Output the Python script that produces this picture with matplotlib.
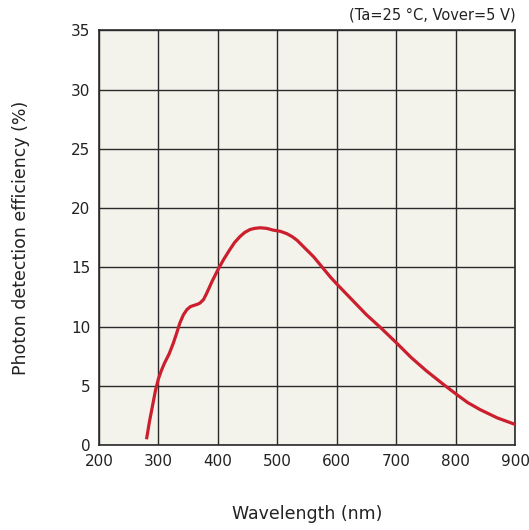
import matplotlib
matplotlib.use("Agg")
import matplotlib.pyplot as plt

wavelength = [280, 285, 290, 295, 300, 305, 310, 318, 325, 331, 336, 342, 348, 354, 360, 366, 370, 376, 381,
              390, 401, 410, 420, 428, 437, 445, 454, 462, 471, 482, 493, 505, 516, 525, 533, 547, 561,
              575, 589, 600, 625, 650, 673, 701, 725, 750, 780, 801, 820, 841, 870, 900]
pde = [0.5, 2.0, 3.3, 4.6, 5.6, 6.3, 6.9, 7.7, 8.6, 9.5, 10.3, 11.0, 11.45, 11.7, 11.8, 11.9, 12.0, 12.3, 12.8,
       13.8, 14.9, 15.7, 16.5, 17.1, 17.6, 17.95, 18.2, 18.3, 18.35, 18.3, 18.15, 18.05, 17.85, 17.6, 17.3, 16.6, 15.9,
       15.05, 14.2, 13.6, 12.3, 11.0, 9.95, 8.6, 7.4, 6.3, 5.1, 4.3, 3.6, 3.0, 2.3, 1.75]

xticks = [200, 300, 400, 500, 600, 700, 800, 900]
yticks = [0, 5, 10, 15, 20, 25, 30, 35]

fig = plt.figure(figsize=(5.29, 5.30), dpi=100)
ax = fig.add_axes([0.187, 0.160, 0.787, 0.7825])
ax.set_facecolor("#f3f2eb")
ax.plot(wavelength, pde, color="#cc1f2d", lw=2.3, solid_joinstyle="round", solid_capstyle="butt", zorder=3)
ax.set_xlim(200, 900)
ax.set_ylim(0, 35)
ax.set_xticks(xticks)
ax.set_yticks(yticks)
ax.grid(True, color="#2a2a2a", lw=1.0)
ax.set_axisbelow(True)
for s in ax.spines.values():
    s.set_color("#2a2a2a")
    s.set_linewidth(1.2)
ax.tick_params(length=0, labelsize=11, colors="#222222", pad=6)
ax.set_xlabel("Wavelength (nm)", fontsize=12.5, color="#222222", labelpad=26)
ax.set_ylabel("Photon detection efficiency (%)", fontsize=12.5, color="#222222", labelpad=30)
fig.text(0.974, 0.972, "(Ta=25 °C, Vover=5 V)", ha="right", va="center", fontsize=10.5, color="#222222")
fig.savefig("out.png", dpi=100)
